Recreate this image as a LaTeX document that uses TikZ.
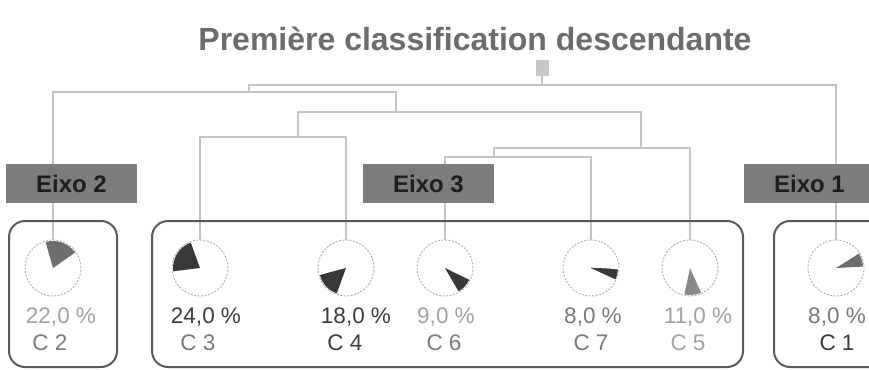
\documentclass[tikz,border=0pt]{standalone}
\usepackage{fontspec}
\setmainfont{Liberation Sans}
\definecolor{treegray}{HTML}{C4C4C4}
\definecolor{piegray}{HTML}{B0B0B0}
\definecolor{axisgray}{HTML}{7C7C7C}
\definecolor{axistext}{HTML}{1E1E1E}
\definecolor{framegray}{HTML}{5A5A5A}
\definecolor{titlegray}{HTML}{6C6C6C}
\definecolor{rootgray}{HTML}{C8C8C8}
\definecolor{wdark}{HTML}{383838}
\definecolor{wmid}{HTML}{6E6E6E}
\definecolor{wlight}{HTML}{8A8A8A}
\definecolor{tdark}{HTML}{3C3C3C}
\definecolor{tmid}{HTML}{7A7A7A}
\definecolor{tlight}{HTML}{A2A2A2}
\begin{document}
\begin{tikzpicture}[x=1pt,y=-1pt,
  tree/.style={draw=treegray, line width=1.3pt},
  pie/.style={circle, draw=piegray, dash pattern=on 2pt off 1.5pt, line width=0.9pt,
    minimum size=56pt, inner sep=0pt},
  axisbox/.style={fill=axisgray, minimum width=131pt, minimum height=39pt, inner sep=0pt,
    text height=17pt, text depth=0pt, text=axistext, font=\fontsize{24}{24}\selectfont\bfseries},
  groupbox/.style={draw=framegray, line width=2pt, rounded corners=16pt},
  lbl/.style={anchor=base, inner sep=0pt, font=\fontsize{22.5}{22.5}\selectfont},
]
\useasboundingbox[fill=white] (0,0) rectangle (869,369);

% title and root of the dendrogram
\node[anchor=base, inner sep=0pt, text=titlegray, font=\fontsize{32}{32}\selectfont\bfseries]
  (title) at (475,51) {Première classification descendante};
\node[fill=rootgray, minimum width=13pt, minimum height=16pt, inner sep=0pt] (root) at (542,68) {};

% class pies
\node[pie] (p2) at (53,268) {};
\node[pie] (p3) at (200,268) {};
\node[pie] (p4) at (346,268) {};
\node[pie] (p6) at (445,268) {};
\node[pie] (p7) at (591,268) {};
\node[pie] (p5) at (690,268) {};
\node[pie] (p1) at (836,268) {};

% junction points of the tree
\coordinate (k0) at (542,85);
\coordinate (k1) at (249,92);
\coordinate (k2) at (396,112);
\coordinate (k3) at (298,137);
\coordinate (k4) at (641,148);
\coordinate (k5) at (494,157);

% dendrogram
\draw[tree] (root.south) -- (k0);
\draw[tree] (k1) |- (p1.north|-k0) -- (p1.north);
\draw[tree] (p2.north) |- (k2|-k1) -- (k2);
\draw[tree] (k3) |- (k4|-k2) -- (k4);
\draw[tree] (p3.north) |- (p4.north|-k3) -- (p4.north);
\draw[tree] (k5) |- (p5.north|-k4) -- (p5.north);
\draw[tree] (p6.north) |- (p7.north|-k5) -- (p7.north);

% axis headers
\node[axisbox] (ax2) at (71.5,183.5) {Eixo 2};
\node[axisbox] (ax3) at (428.5,183.5) {Eixo 3};
\node[axisbox] (ax1) at (809.5,183.5) {Eixo 1};

% group frames
\draw[groupbox] (9,221) rectangle (117,367);
\draw[groupbox] (152,221) rectangle (743,367);
\draw[groupbox] (774,221) rectangle (905,367);

% pie slices
\fill[wmid]  (p2.center) -- ++(35:27pt) arc[start angle=35, end angle=106, radius=27pt] -- cycle;
\fill[wdark] (p3.center) -- ++(110:27pt) arc[start angle=110, end angle=187, radius=27pt] -- cycle;
\fill[wdark] (p4.center) -- ++(195:27pt) arc[start angle=195, end angle=250, radius=27pt] -- cycle;
\fill[wdark] (p6.center) -- ++(-60:27pt) arc[start angle=-60, end angle=-26, radius=27pt] -- cycle;
\fill[wdark] (p7.center) -- ++(-25:27pt) arc[start angle=-25, end angle=-3, radius=27pt] -- cycle;
\draw[wdark, line width=0.6pt] (p7.center) -- ++(-3:20pt);
\fill[wlight] (p5.center) -- ++(-102:27pt) arc[start angle=-102, end angle=-66, radius=27pt] -- cycle;
\fill[wmid]  (p1.center) -- ++(3:27pt) arc[start angle=3, end angle=32, radius=27pt] -- cycle;

% percentages
\node[lbl, text=tlight] (q2) at (61,323) {22,0 \%};
\node[lbl, text=tdark]  (q3) at (206,323) {24,0 \%};
\node[lbl, text=tdark]  (q4) at (356,323) {18,0 \%};
\node[lbl, text=tlight] (q6) at (446,323) {9,0 \%};
\node[lbl, text=tmid]   (q7) at (593,323) {8,0 \%};
\node[lbl, text=tlight] (q5) at (698,323) {11,0 \%};
\node[lbl, text=tmid]   (q1) at (837,323) {8,0 \%};

% class names
\node[lbl, text=tmid]   (c2) at (50,350) {C 2};
\node[lbl, text=tmid]   (c3) at (198,350) {C 3};
\node[lbl, text=tdark]  (c4) at (345,350) {C 4};
\node[lbl, text=tmid]   (c6) at (444,350) {C 6};
\node[lbl, text=tmid]   (c7) at (591,350) {C 7};
\node[lbl, text=tlight] (c5) at (688,350) {C 5};
\node[lbl, text=tdark]  (c1) at (837,350) {C 1};
\end{tikzpicture}
\end{document}
